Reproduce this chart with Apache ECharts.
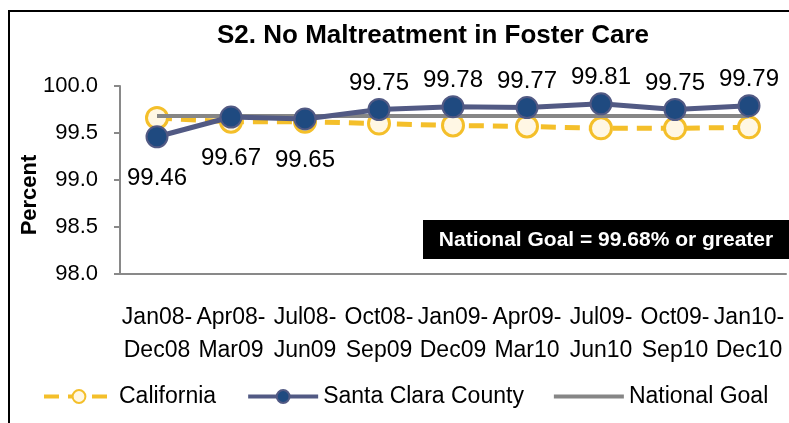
<!DOCTYPE html>
<html><head><meta charset="utf-8">
<script src="https://cdn.jsdelivr.net/npm/echarts@6/dist/echarts.min.js"></script>
<style>html,body{margin:0;padding:0;background:#fff}#c{width:789px;height:423px}</style>
</head><body><div id="c"></div>
<script>
const categories = ["Jan08-\nDec08","Apr08-\nMar09","Jul08-\nJun09","Oct08-\nSep09","Jan09-\nDec09","Apr09-\nMar10","Jul09-\nJun10","Oct09-\nSep10","Jan10-\nDec10"];
const california = [99.66, 99.62, 99.62, 99.60, 99.58, 99.57, 99.55, 99.55, 99.56];
const santaClara = [99.46, 99.67, 99.65, 99.75, 99.78, 99.77, 99.81, 99.75, 99.79];
const nationalGoal = [99.68, 99.68, 99.68, 99.68, 99.68, 99.68, 99.68, 99.68, 99.68];
const yTicks = [98.0, 98.5, 99.0, 99.5, 100.0];
const labelBelow = [true, true, true, false, false, false, false, false, false];

const FONT = "Liberation Sans";
const chart = echarts.init(document.getElementById('c'), null, {renderer:'canvas'});
chart.setOption({
  animation: false,
  textStyle: {fontFamily: FONT},
  title: {
    text: "S2. No Maltreatment in Foster Care",
    left: 428, top: 18, textAlign: 'center',
    textStyle: {fontFamily: FONT, fontSize: 26, fontWeight: 'bold', color: '#000'}
  },
  grid: {left: 120, right: 3, top: 86, bottom: 149, containLabel: false},
  legend: {
    left: 42, top: 385, padding: 0, itemWidth: 70, itemHeight: 16, itemGap: 30,
    lineStyle: {width: 4},
    textStyle: {fontFamily: FONT, fontSize: 23, color: '#000'},
    data: [
      {name: 'California'},
      {name: 'Santa Clara County'},
      {name: 'National Goal', icon: 'path://M0,0 L72,0 L72,4 L0,4 Z'}
    ]
  },
  xAxis: {
    type: 'category', data: categories, boundaryGap: true,
    axisLine: {lineStyle: {color: '#898989', width: 2}},
    axisTick: {alignWithLabel: true, length: 6, lineStyle: {color: '#898989', width: 2}},
    axisLabel: {interval: 0, fontFamily: FONT, fontSize: 23, color: '#000', lineHeight: 33, margin: 27}
  },
  yAxis: {
    type: 'value', min: yTicks[0], max: yTicks[yTicks.length-1], interval: 0.5,
    splitLine: {show: false},
    axisLine: {show: true, lineStyle: {color: '#898989', width: 2}},
    axisTick: {show: true, length: 6, lineStyle: {color: '#898989', width: 2}},
    axisLabel: {fontFamily: FONT, fontSize: 22, color: '#000', margin: 22,
      formatter: v => v.toFixed(1)}
  },
  graphic: [
    {type: 'rect', shape: {x: 9, y: 11, width: 800, height: 440}, style: {fill: 'none', stroke: '#000', lineWidth: 2}, silent: true},
    {type: 'text', x: 30, y: 195, rotation: Math.PI/2,
      style: {text: 'Percent', font: 'bold 22px ' + FONT, fill: '#000', align: 'center', verticalAlign: 'middle'}},
    {type: 'rect', shape: {x: 423, y: 220, width: 366, height: 39}, style: {fill: '#000'}},
    {type: 'text', x: 606, y: 240,
      style: {text: 'National Goal = 99.68% or greater', font: 'bold 21px ' + FONT, fill: '#fff', align: 'center', verticalAlign: 'middle'}}
  ],
  series: [
    {
      name: 'National Goal', type: 'line', data: nationalGoal, symbol: 'none', z: 3,
      lineStyle: {color: '#868686', width: 4}, itemStyle: {color: '#868686'}
    },
    {
      name: 'California', type: 'line', data: california, z: 2,
      symbol: 'circle', symbolSize: 21,
      lineStyle: {color: '#F4BF2A', width: 5, type: [15, 9]},
      itemStyle: {color: '#FFF7E4', borderColor: '#F4BF2A', borderWidth: 3}
    },
    {
      name: 'Santa Clara County', type: 'line', data: santaClara.map((v,i) => ({
        value: v,
        label: {position: labelBelow[i] ? 'bottom' : 'top', distance: labelBelow[i] ? 18 : 3}
      })), z: 4,
      symbol: 'circle', symbolSize: 21,
      lineStyle: {color: '#525A84', width: 5},
      itemStyle: {color: '#1F4A80', borderColor: '#525A84', borderWidth: 2},
      label: {show: true, fontFamily: FONT, fontSize: 24, color: '#000', formatter: p => p.value.toFixed(2)}
    }
  ]
});
</script></body></html>
